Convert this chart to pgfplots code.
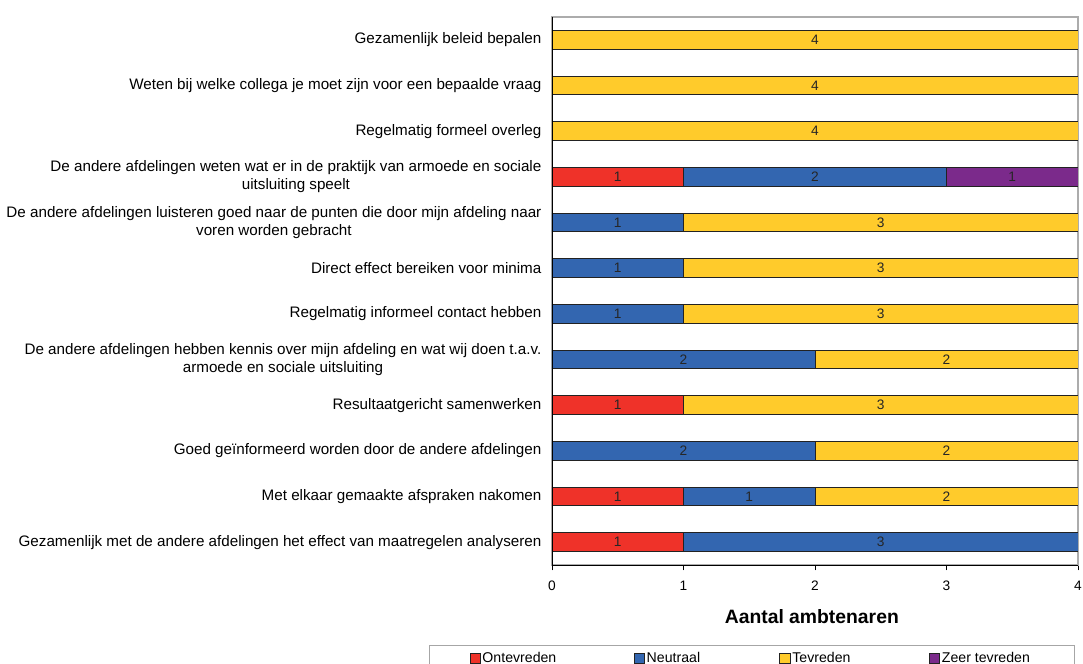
\documentclass[border=0pt]{standalone}
\usepackage{fontspec}
\setmainfont{Liberation Sans}
\usepackage{pgfplots}
\usepackage{pgfplotstable}
\pgfplotsset{compat=1.18}
\usetikzlibrary{calc}

\definecolor{cOnt}{HTML}{EF3229}
\definecolor{cNeu}{HTML}{3366B0}
\definecolor{cTev}{HTML}{FFCB2B}
\definecolor{cZeer}{HTML}{7B2A8B}
\definecolor{edge}{HTML}{222222}

% rows from bottom (0) to top (11)
\pgfplotstableread{
y ont neu tev zeer
0 1 3 0 0
1 1 1 2 0
2 0 2 2 0
3 1 0 3 0
4 0 2 2 0
5 0 1 3 0
6 0 1 3 0
7 0 1 3 0
8 1 2 0 1
9 0 0 4 0
10 0 0 4 0
11 0 0 4 0
}\counts

% value labels at the middle of each non-empty segment
\pgfplotstableread{
x y v
0.5 0 1
2.5 0 3
0.5 1 1
1.5 1 1
3 1 2
1 2 2
3 2 2
0.5 3 1
2.5 3 3
1 4 2
3 4 2
0.5 5 1
2.5 5 3
0.5 6 1
2.5 6 3
0.5 7 1
2.5 7 3
0.5 8 1
2 8 2
3.5 8 1
2 9 4
2 10 4
2 11 4
}\segs

\begin{document}
\fontsize{10.5}{12.6}\selectfont
\begin{tikzpicture}
\pgfplotsset{
  common/.style={
    scale only axis,
    width=394.5pt, height=411pt,
    xmin=0, xmax=4, ymin=-0.5, ymax=11.5,
  },
}
\begin{axis}[
  common,
  name=main,
  xbar stacked,
  bar width=14pt,
  axis line style={draw=gray!65, line width=0.8pt},
  xtick={0,1,2,3,4},
  xtick style={draw=black, line width=0.6pt},
  tick align=outside,
  xtick pos=bottom,
  major tick length=4pt,
  ytick={0,...,11},
  ytick pos=left,
  ytick style={draw=none},
  minor ytick={-0.5,0.5,...,11.5},
  minor tick length=3pt,
  minor tick style={draw=black, line width=0.6pt},
  /pgf/number format/assume math mode=true,
  xticklabel style={font=\fontsize{10.3}{12}\selectfont, yshift=-4pt},
  yticklabels={
    {Gezamenlijk met de andere afdelingen het effect van maatregelen analyseren},
    {Met elkaar gemaakte afspraken nakomen},
    {Goed geïnformeerd worden door de andere afdelingen},
    {Resultaatgericht samenwerken},
    {De andere afdelingen hebben kennis over mijn afdeling en wat wij doen t.a.v.\\armoede en sociale uitsluiting},
    {Regelmatig informeel contact hebben},
    {Direct effect bereiken voor minima},
    {De andere afdelingen luisteren goed naar de punten die door mijn afdeling naar\\voren worden gebracht},
    {De andere afdelingen weten wat er in de praktijk van armoede en sociale\\uitsluiting speelt},
    {Regelmatig formeel overleg},
    {Weten bij welke collega je moet zijn voor een bepaalde vraag},
    {Gezamenlijk beleid bepalen},
  },
  yticklabel style={align=center, inner xsep=0pt, xshift=-3.75pt,
    font=\fontsize{11.4}{13.5}\selectfont},
  xlabel={Aantal ambtenaren},
  xlabel style={font=\bfseries\fontsize{14.5}{17}\selectfont,
    at={(axis description cs:0.494,-0.095)}, anchor=center},
  legend columns=4,
  legend style={
    at={(axis description cs:-0.2338,-0.146)}, anchor=north west,
    draw=gray!70, line width=0.8pt,
    inner xsep=30pt, inner ysep=3pt,
    font=\fontsize{10.6}{12.5}\selectfont,
    nodes={inner xsep=1.5pt, inner ysep=2pt},
    /tikz/every odd column/.append style={column sep=0pt},
  },
  legend image code/.code={
    \draw[#1, draw=edge, line width=0.6pt] (0pt,-3.8pt) rectangle (7.6pt,3.8pt);
  },
  after end axis/.code={
    \draw[black, line width=0.7pt] (rel axis cs:0,1) -- (rel axis cs:0,0) -- (rel axis cs:1,0);
  },
]
\addplot[fill=cOnt, draw=edge, line width=0.6pt] table[x=ont, y=y] {\counts};
\addlegendentry{\makebox[112pt][l]{Ontevreden}}
\addplot[fill=cNeu, draw=edge, line width=0.6pt] table[x=neu, y=y] {\counts};
\addlegendentry{\makebox[98pt][l]{Neutraal}}
\addplot[fill=cTev, draw=edge, line width=0.6pt] table[x=tev, y=y] {\counts};
\addlegendentry{\makebox[101pt][l]{Tevreden}}
\addplot[fill=cZeer, draw=edge, line width=0.6pt] table[x=zeer, y=y] {\counts};
\addlegendentry{\makebox[68pt][l]{Zeer tevreden}}
\end{axis}

\begin{axis}[
  common,
  hide axis,
]
\addplot[only marks, mark=none, nodes near coords,
  point meta=explicit symbolic,
  every node near coord/.style={anchor=center, font=\fontsize{10.3}{12}\selectfont, text=black!85}]
  table[x=x, y=y, meta=v] {\segs};
\end{axis}

\pgfresetboundingbox
\path[use as bounding box] ($(main.south west)+(-414pt,-74.25pt)$) rectangle ($(main.south west)+(398.25pt,423.75pt)$);
\end{tikzpicture}
\end{document}
